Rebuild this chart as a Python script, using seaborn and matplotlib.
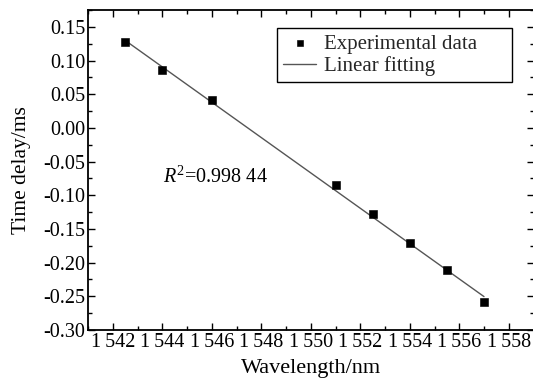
import numpy as np
import pandas as pd
import matplotlib
matplotlib.use("Agg")
import matplotlib.pyplot as plt
import seaborn as sns
from matplotlib.ticker import MultipleLocator, FuncFormatter

wavelength = [1542.5, 1544.0, 1546.0, 1551.0, 1552.5, 1554.0, 1555.5, 1557.0]
delay = [0.127, 0.086, 0.041, -0.085, -0.128, -0.171, -0.211, -0.259]
xticks = [1542, 1544, 1546, 1548, 1550, 1552, 1554, 1556, 1558]
yticks = [0.15, 0.10, 0.05, 0.00, -0.05, -0.10, -0.15, -0.20, -0.25, -0.30]

df = pd.DataFrame({"wavelength": wavelength, "delay": delay})

sns.set_style("ticks")
plt.rcParams['font.family'] = ['Liberation Serif', 'DejaVu Serif']
plt.rcParams['mathtext.fontset'] = 'custom'
plt.rcParams['mathtext.it'] = 'Liberation Serif:italic'
plt.rcParams['mathtext.rm'] = 'Liberation Serif'

fig = plt.figure(figsize=(5.33, 3.8), dpi=100)
ax = fig.add_axes([88 / 533, 50 / 380, 445.5 / 533, 320 / 380])

sns.regplot(data=df, x="wavelength", y="delay", scatter=False, ci=None, ax=ax,
            line_kws=dict(color="#555555", lw=1.0), label="Linear fitting")
sns.scatterplot(data=df, x="wavelength", y="delay", marker="s", s=28, color="black",
                edgecolor="black", ax=ax, label="Experimental data", zorder=3)

ax.set_xlim(1541, 1559)
ax.set_ylim(-0.30, 0.175)
ax.set_xticks(xticks)
ax.xaxis.set_minor_locator(MultipleLocator(1))
ax.set_yticks(yticks)
ax.yaxis.set_minor_locator(MultipleLocator(0.025))
ax.xaxis.set_major_formatter(FuncFormatter(lambda v, p: f"{int(v)//1000}\u2009{int(v)%1000:03d}"))
ax.yaxis.set_major_formatter(FuncFormatter(lambda v, p: f"{v:.2f}".replace("-0.00", "0.00")))

ax.tick_params(which="both", direction="in", top=True, right=True, width=1, color="black", labelcolor="black")
ax.tick_params(axis="x", labelsize=14.5)
ax.tick_params(axis="y", labelsize=14.5)
ax.tick_params(which="major", length=5, pad=2)
ax.tick_params(which="minor", length=3)
for sp in ax.spines.values():
    sp.set_visible(True)
    sp.set_color("black")
    sp.set_linewidth(1.3)

ax.set_xlabel("Wavelength/nm", fontsize=16, labelpad=5, color="black")
ax.set_ylabel("Time delay/ms", fontsize=15.5, color="black")
ax.yaxis.set_label_coords(-0.128, 0.5)

ax.text(1544.05, -0.073, r"$R^{2}$=0.998 44", fontsize=14.5, va="center", ha="left", color="black")

h, l = ax.get_legend_handles_labels()
order = [l.index("Experimental data"), l.index("Linear fitting")]
leg = ax.legend([h[i] for i in order], [l[i] for i in order], loc="upper left",
                bbox_to_anchor=(0.424, 0.0, 0.528, 0.944), mode="expand",
                fontsize=15, frameon=True, fancybox=False,
                edgecolor="black", framealpha=1, borderpad=0.3, handlelength=1.6,
                labelspacing=0.12, handletextpad=0.35, borderaxespad=0, markerscale=0.8)
leg.get_frame().set_linewidth(1.0)

fig.savefig("out.png", dpi=100)
